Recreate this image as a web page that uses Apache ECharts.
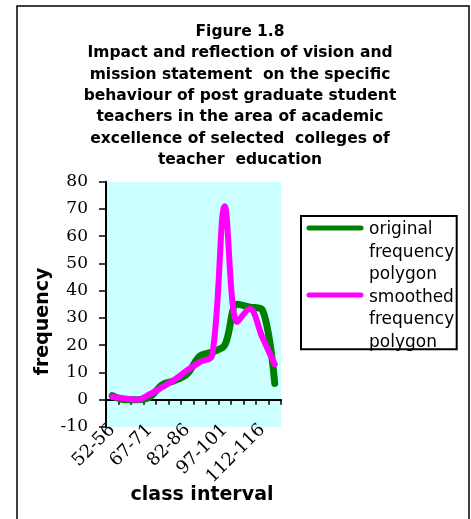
<!DOCTYPE html>
<html>
<head>
<meta charset="utf-8">
<script src="https://cdn.jsdelivr.net/npm/echarts@6/dist/echarts.min.js"></script>
<style>
html,body{margin:0;padding:0;background:#fff;}
#chart{width:471px;height:519px;}
</style>
</head>
<body>
<div id="chart"></div>
<script>
const categories = ['52-56','57-61','62-66','67-71','72-76','77-81','82-86','87-91','92-96','97-101','102-106','107-111','112-116','117-121'];
const originalFreq = [1.5, 0, 0, 1, 5.5, 7, 9.5, 16, 17.5, 20, 35, 34, 33, 6];
const smoothedFreq = [1, 0.5, 0, 2, 4.6, 7.4, 10.8, 13.8, 16.3, 71, 28.5, 33.4, 23, 13];
const yTicks = {min: -10, max: 80, interval: 10};
const titleLines = ['Figure 1.8','Impact and reflection of vision and','mission statement  on the specific','behaviour of post graduate student','teachers in the area of academic','excellence of selected  colleges of','teacher  education'];
const seriesNames = ['original frequency polygon', 'smoothed frequency polygon'];
const legendLabels = ['original\nfrequency\npolygon', 'smoothed\nfrequency\npolygon'];
const colors = ['#008000', '#ff00ff'];

const chart = echarts.init(document.getElementById('chart'), null, {renderer: 'canvas'});
const option = {
  backgroundColor: '#ffffff',
  animation: false,
  grid: {left: 106, top: 181.7, right: 190, bottom: 92, show: true, backgroundColor: '#ccffff', borderWidth: 0, containLabel: false},
  xAxis: {
    type: 'category', data: categories, boundaryGap: true,
    axisLine: {onZero: true, lineStyle: {color: '#000', width: 2}},
    axisTick: {show: true, length: 5, lineStyle: {color: '#000', width: 1.5}, interval: 0},
    axisLabel: {interval: 2, rotate: 45, margin: 0, color: '#000', fontFamily: 'DejaVu Serif', fontSize: 18},
    splitLine: {show: false}
  },
  yAxis: {
    type: 'value', min: yTicks.min, max: yTicks.max, interval: yTicks.interval,
    axisLine: {show: true, onZero: false, lineStyle: {color: '#000', width: 2}},
    axisTick: {show: true, length: 7, lineStyle: {color: '#000', width: 1.5}},
    axisLabel: {margin: 18, color: '#000', fontFamily: 'DejaVu Serif', fontSize: 17},
    splitLine: {show: false}
  },
  legend: {show: false, data: seriesNames},
  series: [
    {name: seriesNames[0], type: 'line', data: originalFreq, smooth: 0.35, showSymbol: false, symbol: 'none',
     lineStyle: {color: colors[0], width: 7, cap: 'round', join: 'round'}, itemStyle: {color: colors[0]}, z: 2},
    {name: seriesNames[1], type: 'line', data: smoothedFreq, smooth: 0.35, showSymbol: false, symbol: 'none',
     lineStyle: {color: colors[1], width: 6, cap: 'round', join: 'round'}, itemStyle: {color: colors[1]}, z: 3}
  ],
  graphic: [
    {type: 'rect', shape: {x: 17, y: 6, width: 452, height: 530}, style: {fill: 'none', stroke: '#000', lineWidth: 1.5}, silent: true},
    {type: 'text', x: 240, y: 21, style: {text: titleLines.join('\n'), align: 'center', verticalAlign: 'top', fontFamily: 'DejaVu Sans', fontWeight: 'bold', fontSize: 15.5, lineHeight: 21.4, fill: '#000'}},
    {type: 'text', x: 43, y: 321.5, rotation: Math.PI / 2, style: {text: 'frequency', align: 'center', verticalAlign: 'middle', fontFamily: 'DejaVu Sans', fontWeight: 'bold', fontSize: 19, fill: '#000'}},
    {type: 'text', x: 202, y: 495, style: {text: 'class interval', align: 'center', verticalAlign: 'middle', fontFamily: 'DejaVu Sans', fontWeight: 'bold', fontSize: 19, fill: '#000'}},
    {type: 'rect', shape: {x: 301, y: 216, width: 155.7, height: 133.3}, style: {fill: '#fff', stroke: '#000', lineWidth: 2}, z: 10},
    {type: 'line', shape: {x1: 309, y1: 228, x2: 361, y2: 228}, style: {stroke: colors[0], lineWidth: 5, lineCap: 'round'}, z: 11},
    {type: 'text', x: 369, y: 218.8, style: {text: legendLabels[0], align: 'left', verticalAlign: 'top', fontFamily: 'DejaVu Sans', fontSize: 17, lineHeight: 22.5, fill: '#000'}, z: 11},
    {type: 'line', shape: {x1: 309, y1: 295, x2: 361, y2: 295}, style: {stroke: colors[1], lineWidth: 5, lineCap: 'round'}, z: 11},
    {type: 'text', x: 369, y: 286, style: {text: legendLabels[1], align: 'left', verticalAlign: 'top', fontFamily: 'DejaVu Sans', fontSize: 17, lineHeight: 22.5, fill: '#000'}, z: 11}
  ]
};
chart.setOption(option);
</script>
</body>
</html>
